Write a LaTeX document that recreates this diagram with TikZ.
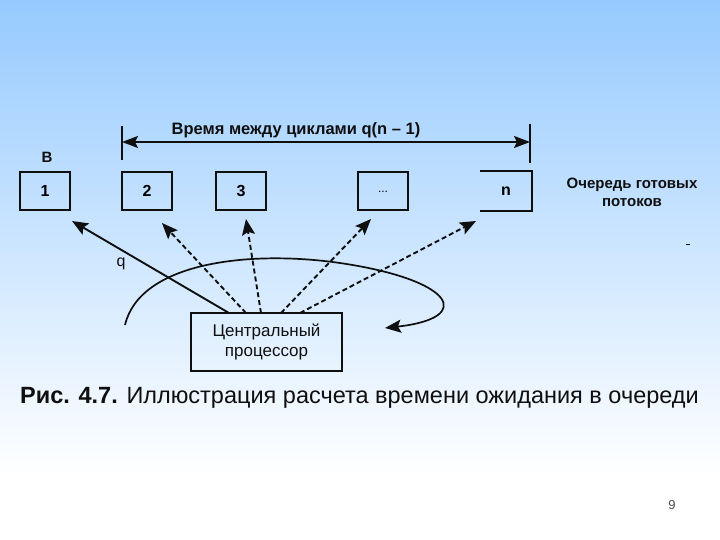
\documentclass[tikz,border=0pt]{standalone}
\usepackage{fontspec}
\setmainfont{Liberation Sans}
\usetikzlibrary{arrows.meta,calc}
\definecolor{bgtop}{RGB}{150,202,255}
\definecolor{ink}{RGB}{15,15,15}
\begin{document}
\begin{tikzpicture}[x=1pt,y=-1pt,
  qbox/.style={draw=ink,line width=2pt,minimum width=50pt,minimum height=38pt,inner sep=0pt,font=\fontsize{16}{18}\selectfont\bfseries},
  tip/.style={-{Stealth[length=16pt,width=13pt,inset=3pt]}},
  solidarrow/.style={tip,draw=ink,line width=1.9pt},
  dasharrow/.style={tip,draw=ink,line width=1.9pt,dash pattern=on 5pt off 3pt},
  lbl/.style={inner sep=0pt,text=ink}]
\useasboundingbox (0,0) rectangle (720,540);
\shade[top color=bgtop,bottom color=white] (0,0) rectangle (720,475);
\fill[white] (0,475) rectangle (720,540);
% queue boxes
\node[qbox] (b1) at (45,191) {1};
\node[qbox] (b2) at (147,191) {2};
\node[qbox] (b3) at (241,191) {3};
\node[qbox,font=\fontsize{12}{14}\selectfont] (bd) at (383,191.5) {...};
\node[qbox,draw=none] (bn) at (506,191.5) {n};
\draw[ink,line width=2pt] (bn.north west) -- (bn.north east) -- (bn.south east) -- (bn.south west);
\node[lbl,font=\fontsize{15}{17}\selectfont\bfseries] (lb) at (47,157) {В};
% dimension line
\coordinate (dl) at (122,142);
\coordinate (dr) at (530,142);
\draw[ink,line width=1.5pt] (122,126) -- (122,160);
\draw[ink,line width=1.5pt] (530,124) -- (530,163);
\draw[ink,line width=2pt,{Stealth[length=16pt,width=12pt,inset=3pt]}-{Stealth[length=16pt,width=12pt,inset=3pt]}] (dl) -- (dr);
\node[lbl,font=\fontsize{16.5}{18}\selectfont\bfseries] (title) at (296,130) {Время между циклами q(n – 1)};
\node[lbl,font=\fontsize{15}{18}\selectfont\bfseries,align=center] (queue) at (632,192) {Очередь готовых\\потоков};
% CPU
\node[draw=ink,line width=1.7pt,minimum width=151pt,minimum height=58pt,inner sep=0pt,align=center,font=\fontsize{17}{20}\selectfont,text=ink] (cpu) at (266.5,342) {Центральный\\процессор};
\coordinate (s1) at (229,313);
\coordinate (s2) at (246,313);
\coordinate (s3) at (261,313);
\coordinate (s4) at (281,313);
\coordinate (s5) at (300,313);
\coordinate (t1) at (72,221);
\coordinate (t2) at (162,223);
\coordinate (t3) at (246,219);
\coordinate (t4) at (371,219);
\coordinate (t5) at (476,221);
\draw[solidarrow] (s1) -- (t1);
\draw[dasharrow] (s2) -- (t2);
\draw[dasharrow] (s3) -- (t3);
\draw[dasharrow] (s4) -- (t4);
\draw[dasharrow] (s5) -- (t5);
\node[lbl,font=\fontsize{16}{18}\selectfont] (q) at (121,264) {q};
% rotation arc
\coordinate (a0) at (125,325);
\coordinate (a1) at (385,328);
\draw[ink,line width=1.7pt,-{Stealth[length=16pt,width=13pt,inset=3pt]}] (a0) .. controls (140,262) and (250,250) .. (340,263) .. controls (455,280) and (475,318) .. (a1);
% caption
\node[lbl,font=\fontsize{23.5}{26}\selectfont,anchor=west] (cap) at (20,398) {\textbf{Рис.} \textbf{4.7.} Иллюстрация расчета времени ожидания в очереди};
\node[lbl,font=\fontsize{13}{15}\selectfont,text=black!70] (pg) at (672,505) {9};
\draw[ink,line width=1pt] (686,244) -- (690,244);
\end{tikzpicture}
\end{document}
